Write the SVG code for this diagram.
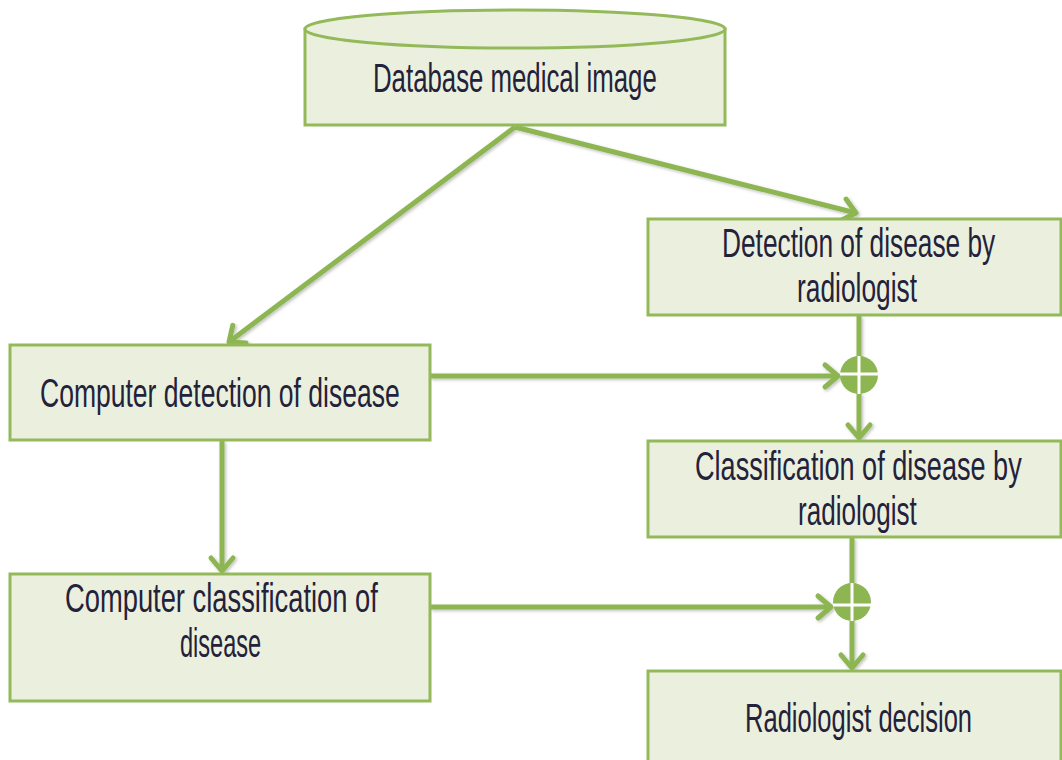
<svg xmlns="http://www.w3.org/2000/svg" width="1062" height="760" viewBox="0 0 1062 760">
  <style>
    .box { fill: #ebf0de; stroke: #93b95a; stroke-width: 3; }
    .lbl { font-family: "Liberation Sans", Arial, sans-serif; font-size: 41px; fill: #24223a; }
    .edge { fill: none; stroke: #8db652; stroke-width: 5; }
    .sum { fill: #8db652; }
    .cross { stroke: #ffffff; stroke-width: 3; }
  </style>
  <defs>
    <marker id="arrow" markerUnits="userSpaceOnUse" markerWidth="34" markerHeight="34" viewBox="-20 -17 34 34" refX="0" refY="0" orient="auto">
      <path d="M-13,-11 L0,0 L-13,11" fill="none" stroke="#8db652" stroke-width="5" stroke-linecap="round" stroke-linejoin="round"/>
    </marker>
    <filter id="shadow" x="-5%" y="-5%" width="110%" height="110%">
      <feDropShadow dx="1.5" dy="1.5" stdDeviation="1.5" flood-color="#000000" flood-opacity="0.25"/>
    </filter>
  </defs>

  <rect width="1062" height="760" fill="#ffffff"/>

  <!-- connectors -->
  <g id="connectors" filter="url(#shadow)">
    <line class="edge" x1="515" y1="127" x2="229" y2="342" marker-end="url(#arrow)"/>
    <line class="edge" x1="515" y1="127" x2="856" y2="213" marker-end="url(#arrow)"/>
    <line class="edge" x1="859" y1="316" x2="859" y2="357"/>
    <line class="edge" x1="859" y1="393" x2="859" y2="438" marker-end="url(#arrow)"/>
    <line class="edge" x1="430" y1="376" x2="838" y2="376" marker-end="url(#arrow)"/>
    <line class="edge" x1="222" y1="441" x2="222" y2="571" marker-end="url(#arrow)"/>
    <line class="edge" x1="852" y1="538" x2="852" y2="584"/>
    <line class="edge" x1="852" y1="620" x2="852" y2="668" marker-end="url(#arrow)"/>
    <line class="edge" x1="430" y1="607" x2="831" y2="607" marker-end="url(#arrow)"/>
  </g>

  <!-- summing junctions -->
  <g id="junction1">
    <circle class="sum" cx="859" cy="375" r="19"/>
    <line class="cross" x1="840" y1="374" x2="879" y2="374"/>
    <line class="cross" x1="859" y1="356" x2="859" y2="394"/>
  </g>
  <g id="junction2">
    <circle class="sum" cx="852" cy="602" r="19"/>
    <line class="cross" x1="833" y1="605" x2="875" y2="605"/>
    <line class="cross" x1="852" y1="583" x2="852" y2="621"/>
  </g>

  <!-- database cylinder; labels use a horizontally condensed face -->
  <g id="database">
    <rect class="box" x="305" y="29" width="420" height="96"/>
    <ellipse class="box" cx="515" cy="29" rx="210" ry="19"/>
    <text class="lbl" transform="translate(373 92) scale(0.66 1)" textLength="430" lengthAdjust="spacingAndGlyphs">Database medical image</text>
  </g>

  <g id="radiologist-detection">
    <rect class="box" x="648" y="219" width="413" height="96"/>
    <text class="lbl" transform="translate(722 257) scale(0.66 1)" textLength="414" lengthAdjust="spacingAndGlyphs">Detection of disease by</text>
    <text class="lbl" transform="translate(797 302) scale(0.66 1)" textLength="182" lengthAdjust="spacingAndGlyphs">radiologist</text>
  </g>

  <g id="computer-detection">
    <rect class="box" x="10" y="345" width="420" height="95"/>
    <text class="lbl" transform="translate(40 407) scale(0.66 1)" textLength="545" lengthAdjust="spacingAndGlyphs">Computer detection of disease</text>
  </g>

  <g id="radiologist-classification">
    <rect class="box" x="648" y="441" width="413" height="96"/>
    <text class="lbl" transform="translate(695 480) scale(0.66 1)" textLength="495" lengthAdjust="spacingAndGlyphs">Classification of disease by</text>
    <text class="lbl" transform="translate(798 525) scale(0.66 1)" textLength="180" lengthAdjust="spacingAndGlyphs">radiologist</text>
  </g>

  <g id="computer-classification">
    <rect class="box" x="10" y="574" width="420" height="127"/>
    <text class="lbl" transform="translate(65 612) scale(0.66 1)" textLength="474" lengthAdjust="spacingAndGlyphs">Computer classification of</text>
    <text class="lbl" transform="translate(180 657) scale(0.66 1)" textLength="123" lengthAdjust="spacingAndGlyphs">disease</text>
  </g>

  <g id="radiologist-decision">
    <rect class="box" x="648" y="671" width="413" height="100"/>
    <text class="lbl" transform="translate(745 732) scale(0.66 1)" textLength="344" lengthAdjust="spacingAndGlyphs">Radiologist decision</text>
  </g>
</svg>
